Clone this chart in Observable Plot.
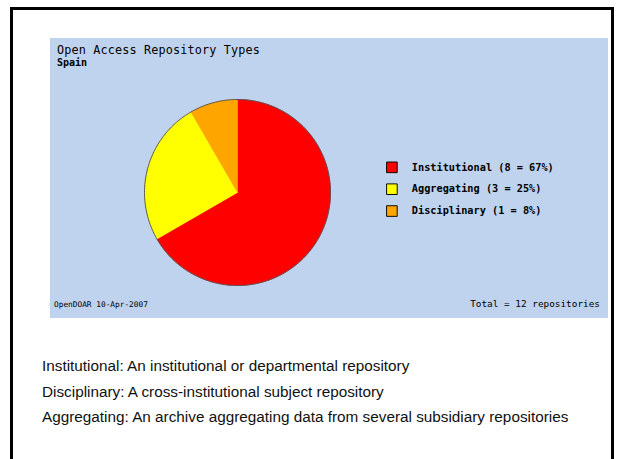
<!DOCTYPE html>
<html>
<head>
<meta charset="utf-8">
<script src="https://cdn.jsdelivr.net/npm/d3@7"></script>
<script src="https://cdn.jsdelivr.net/npm/@observablehq/plot@0.6"></script>
<style>
  html, body { margin: 0; padding: 0; background: #fff; }
  #page { position: relative; width: 620px; height: 459px; overflow: hidden; background: #fff; }
  #border { position: absolute; left: 10px; top: 7px; width: 604px; height: 470px; border: 3px solid #000; box-sizing: border-box; }
  #panel { position: absolute; left: 50px; top: 38px; width: 558px; height: 280px; background: #BFD3EE; }
  .mono { font-family: "DejaVu Sans Mono", monospace; color: #000; position: absolute; white-space: nowrap; }
  #title { left: 7px; top: 5px; font-size: 11.8px; letter-spacing: 0.15px; }
  #subtitle { left: 7px; top: 19px; font-size: 10px; font-weight: bold; }
  #source { left: 4px; top: 262px; font-size: 7.8px; }
  #total { right: 8px; top: 260px; font-size: 9.4px; }
  #pie { position: absolute; left: 92px; top: 59px; }
  #legend { position: absolute; left: 330px; top: 117px; }
  #desc { position: absolute; left: 42px; top: 357px; font-family: "Liberation Sans", Arial, sans-serif; font-size: 15.3px; color: #111; }
  #desc div { height: 25.5px; white-space: nowrap; }
</style>
</head>
<body>
<div id="page">
  <div id="border"></div>
  <div id="panel">
    <div id="title" class="mono"></div>
    <div id="subtitle" class="mono"></div>
    <div id="pie"></div>
    <div id="legend"></div>
    <div id="source" class="mono"></div>
    <div id="total" class="mono"></div>
  </div>
  <div id="desc"></div>
</div>
<script>
const categories = ["Institutional", "Aggregating", "Disciplinary"];
const counts = [8, 3, 1];
const colors = ["#FF0000", "#FFFF00", "#FFA500"];
const chartTitle = "Open Access Repository Types";
const chartSubtitle = "Spain";
const sourceNote = "OpenDOAR 10-Apr-2007";
const unitLabel = "repositories";
const descriptions = [
  "Institutional: An institutional or departmental repository",
  "Disciplinary: A cross-institutional subject repository",
  "Aggregating: An archive aggregating data from several subsidiary repositories"
];

const total = d3.sum(counts);
const rows = categories.map((c, i) => ({
  cat: c, count: counts[i], pct: Math.round(counts[i] / total * 100)
}));

document.getElementById("title").textContent = chartTitle;
document.getElementById("subtitle").textContent = chartSubtitle;
document.getElementById("source").textContent = sourceNote;
document.getElementById("total").textContent = `Total = ${total} ${unitLabel}`;
const desc = document.getElementById("desc");
descriptions.forEach(t => { const d = document.createElement("div"); d.textContent = t; desc.appendChild(d); });

// Pie slices as polygons in unit coordinates, angles from d3.pie (0 at 12 o'clock, clockwise)
const arcs = d3.pie().sort(null).value(d => d.count)(rows);
const slicePts = [];
const rimPts = [];
arcs.forEach(a => {
  const n = Math.max(2, Math.ceil((a.endAngle - a.startAngle) / (Math.PI / 180)));
  slicePts.push({cat: a.data.cat, x: 0, y: 0});
  for (let k = 0; k <= n; k++) {
    const t = a.startAngle + (a.endAngle - a.startAngle) * k / n;
    const p = {cat: a.data.cat, x: Math.sin(t), y: Math.cos(t)};
    slicePts.push(p);
    rimPts.push({x: p.x, y: p.y});
  }
  slicePts.push({cat: a.data.cat, x: 0, y: 0});
});

const colorScale = {domain: categories, range: colors};

const pie = Plot.plot({
  width: 190, height: 190, margin: 2,
  x: {domain: [-1, 1], axis: null},
  y: {domain: [-1, 1], axis: null},
  color: colorScale,
  style: {background: "transparent", overflow: "visible"},
  marks: [
    Plot.line(slicePts, {x: "x", y: "y", z: "cat", fill: "cat", stroke: "cat", strokeWidth: 0.5}),
    Plot.line(rimPts, {x: "x", y: "y", stroke: "#555", strokeWidth: 1})
  ]
});
document.getElementById("pie").appendChild(pie);

const legend = Plot.plot({
  width: 240, height: 70.5, margin: 0,
  y: {domain: categories, type: "band", padding: 0, axis: null},
  color: colorScale,
  style: {background: "transparent", overflow: "visible", fontFamily: "DejaVu Sans Mono"},
  marks: [
    Plot.dot(rows, {y: "cat", fill: "cat", symbol: "square", r: 6.3, stroke: "#000", strokeWidth: 1, frameAnchor: "left", dx: 12}),
    Plot.text(rows, {y: "cat", text: d => `${d.cat} (${d.count} = ${d.pct}%)`, frameAnchor: "left", dx: 33, textAnchor: "start", fontSize: 10.8, fontWeight: "bold", fill: "#000"})
  ]
});
document.getElementById("legend").appendChild(legend);
</script>
</body>
</html>
